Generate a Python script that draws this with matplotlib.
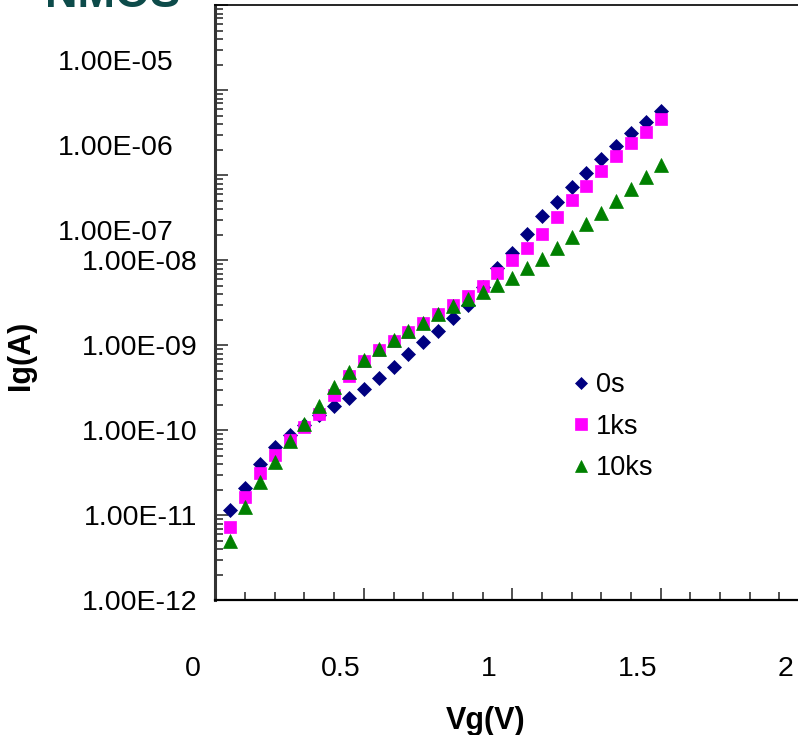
import numpy as np
import matplotlib.pyplot as plt
from matplotlib.ticker import MultipleLocator, LogLocator, NullFormatter, FixedLocator
from matplotlib.transforms import ScaledTranslation

plt.rcParams['font.family'] = ['Liberation Sans', 'DejaVu Sans']

# Gate voltage sweep (V)
vg = [0.05, 0.10, 0.15, 0.20, 0.25, 0.30, 0.35, 0.40, 0.45, 0.50,
      0.55, 0.60, 0.65, 0.70, 0.75, 0.80, 0.85, 0.90, 0.95, 1.00,
      1.05, 1.10, 1.15, 1.20, 1.25, 1.30, 1.35, 1.40, 1.45, 1.50]

# Gate current (A) after each stress time
ig_0s = [1.16e-11, 2.13e-11, 4.03e-11, 6.43e-11, 8.83e-11, 1.16e-10, 1.52e-10, 1.94e-10,
         2.38e-10, 3.04e-10, 4.10e-10, 5.52e-10, 7.91e-10, 1.10e-9, 1.49e-9, 2.12e-9,
         2.98e-9, 4.85e-9, 8.11e-9, 1.23e-8, 2.07e-8, 3.29e-8, 4.84e-8, 7.21e-8,
         1.08e-7, 1.54e-7, 2.21e-7, 3.16e-7, 4.23e-7, 5.74e-7]
ig_1ks = [7.38e-12, 1.63e-11, 3.13e-11, 5.14e-11, 7.71e-11, 1.09e-10, 1.57e-10, 2.61e-10,
          4.33e-10, 6.55e-10, 8.75e-10, 1.13e-9, 1.45e-9, 1.82e-9, 2.34e-9, 2.98e-9,
          3.84e-9, 4.99e-9, 7.03e-9, 1.01e-8, 1.41e-8, 2.07e-8, 3.26e-8, 5.12e-8,
          7.53e-8, 1.12e-7, 1.68e-7, 2.38e-7, 3.20e-7, 4.58e-7]
ig_10ks = [5.05e-12, 1.27e-11, 2.49e-11, 4.29e-11, 7.57e-11, 1.19e-10, 1.94e-10, 3.21e-10,
           4.90e-10, 6.73e-10, 8.99e-10, 1.16e-9, 1.48e-9, 1.85e-9, 2.34e-9, 2.90e-9,
           3.48e-9, 4.28e-9, 5.13e-9, 6.24e-9, 8.05e-9, 1.03e-8, 1.38e-8, 1.86e-8,
           2.65e-8, 3.57e-8, 4.98e-8, 6.84e-8, 9.62e-8, 1.31e-7]

y_decades = [1e-12, 1e-11, 1e-10, 1e-9, 1e-8, 1e-7, 1e-6, 1e-5]
y_labels = ['1.00E-12', '1.00E-11', '1.00E-10', '1.00E-09',
            '1.00E-08', '1.00E-07', '1.00E-06', '1.00E-05']
x_major = [0, 0.5, 1, 1.5, 2]
x_labels = ['0', '0.5', '1', '1.5', '2']

fig = plt.figure(figsize=(7.98, 7.35), dpi=100)
ax = fig.add_axes([0.270, 0.183, 0.7437, 0.8098])

ax.plot(vg, ig_0s, ls='none', marker='D', ms=7.2, color='#000080', mec='#000080', mew=0.5, label='0s')
ax.plot(vg, ig_1ks, ls='none', marker='s', ms=9.0, color='#FF00FF', mec='#FF00FF', mew=0.5, label='1ks')
ax.plot(vg, ig_10ks, ls='none', marker='^', ms=9.8, color='#008000', mec='#008000', mew=0.5, label='10ks')

ax.set_yscale('log')
ax.set_ylim(1e-12, 1e-5)
ax.set_xlim(0, 2)

ax.yaxis.set_major_locator(FixedLocator(y_decades))
ax.set_yticklabels(y_labels)
ax.yaxis.set_minor_locator(LogLocator(base=10, subs=np.arange(2, 10)))
ax.yaxis.set_minor_formatter(NullFormatter())

ax.xaxis.set_major_locator(FixedLocator(x_major))
ax.set_xticklabels(x_labels)
ax.xaxis.set_minor_locator(MultipleLocator(0.1))

ax.tick_params(axis='both', which='both', direction='in', color='#333333', width=1.2)
ax.tick_params(axis='both', which='major', length=9)
ax.tick_params(axis='both', which='minor', length=6)
ax.tick_params(axis='y', which='major', labelsize=20.5, pad=13)
ax.tick_params(axis='x', which='major', labelsize=20.5, pad=40)
ax.tick_params(right=False, top=False)

# label offsets as laid out in the source sheet
dpi_tr = fig.dpi_scale_trans
for lab in ax.get_xticklabels():
    lab.set_transform(lab.get_transform() + ScaledTranslation(-0.23, 0, dpi_tr))
for lab in ax.get_yticklabels()[5:]:
    lab.set_transform(lab.get_transform() + ScaledTranslation(-0.24, -0.55, dpi_tr))

ax.spines['right'].set_visible(False)
ax.spines['left'].set_linewidth(2.2)
ax.spines['left'].set_color('#333333')
ax.spines['bottom'].set_linewidth(1.6)
ax.spines['top'].set_linewidth(1.2)

ax.set_xlabel('Vg(V)', fontsize=22, fontweight='bold')
ax.xaxis.set_label_coords(0.456, -0.177)
ax.set_ylabel('Ig(A)', fontsize=22, fontweight='bold')
ax.yaxis.set_label_coords(-0.302, 0.4125)

ax.legend(loc='upper left', bbox_to_anchor=(0.584, 0.402), frameon=False,
          fontsize=19.5, handlelength=0.6, handletextpad=0.26, labelspacing=0.58,
          borderaxespad=0, markerscale=0.9)

fig.text(0.0564, 1 - 7 / 735, 'NMOS', fontsize=32.5, fontweight='bold',
         color='#0d4b4a', va='baseline', ha='left')

fig.savefig('out.png', dpi=100)
